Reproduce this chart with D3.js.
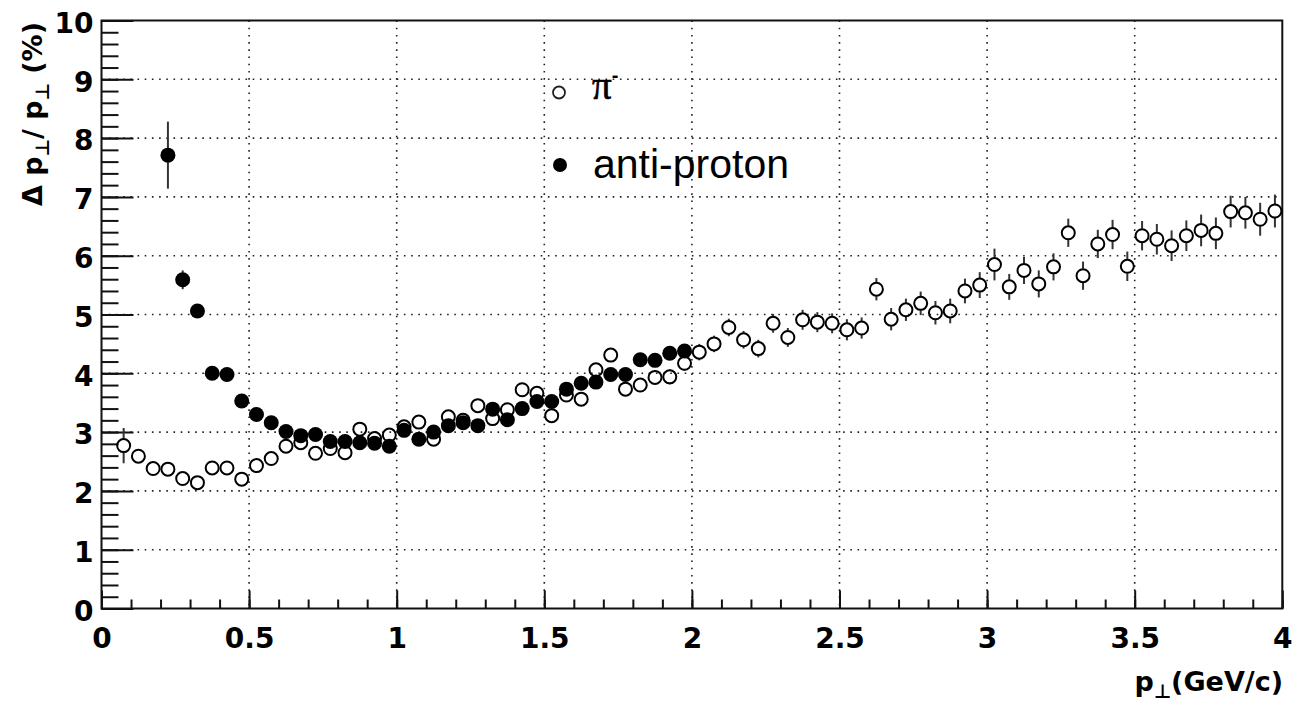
<!DOCTYPE html>
<html><head><meta charset="utf-8">
<script src="https://cdn.jsdelivr.net/npm/d3@7/dist/d3.min.js"></script>
<style>body{margin:0;background:#fff}svg{display:block}</style>
</head><body>
<svg id="c" width="1295" height="705"></svg>
<script>
// ---- data ----
const ptPi = [0.075,0.125,0.175,0.225,0.275,0.325,0.375,0.425,0.475,0.525,
  0.575,0.625,0.675,0.725,0.775,0.825,0.875,0.925,0.975,1.025,
  1.075,1.125,1.175,1.225,1.275,1.325,1.375,1.425,1.475,1.525,
  1.575,1.625,1.675,1.725,1.775,1.825,1.875,1.925,1.975,2.025,
  2.075,2.125,2.175,2.225,2.275,2.325,2.375,2.425,2.475,2.525,
  2.575,2.625,2.675,2.725,2.775,2.825,2.875,2.925,2.975,3.025,
  3.075,3.125,3.175,3.225,3.275,3.325,3.375,3.425,3.475,3.525,
  3.575,3.625,3.675,3.725,3.775,3.825,3.875,3.925,3.975];
const piRes = [2.77,2.59,2.38,2.37,2.21,2.14,2.39,2.39,2.20,2.43,
  2.55,2.76,2.82,2.64,2.72,2.65,3.05,2.89,2.95,3.09,
  3.17,2.88,3.26,3.20,3.45,3.23,3.38,3.72,3.66,3.28,
  3.63,3.56,4.06,4.31,3.73,3.80,3.93,3.94,4.17,4.36,
  4.50,4.78,4.57,4.42,4.85,4.61,4.91,4.87,4.85,4.74,
  4.77,5.43,4.92,5.08,5.19,5.03,5.06,5.40,5.50,5.85,
  5.47,5.75,5.52,5.81,6.39,5.66,6.20,6.36,5.82,6.34,
  6.28,6.17,6.34,6.43,6.38,6.75,6.73,6.62,6.76];
const piErr = [0.30,0.05,0.05,0.05,0.05,0.05,0.05,0.05,0.05,0.05,
  0.05,0.05,0.05,0.05,0.05,0.05,0.06,0.06,0.06,0.07,
  0.07,0.07,0.08,0.08,0.08,0.09,0.09,0.09,0.10,0.10,
  0.10,0.11,0.11,0.11,0.12,0.12,0.12,0.13,0.13,0.14,
  0.14,0.15,0.15,0.15,0.16,0.16,0.17,0.17,0.17,0.18,
  0.18,0.19,0.19,0.19,0.20,0.20,0.21,0.21,0.22,0.27,
  0.22,0.23,0.23,0.23,0.24,0.24,0.24,0.25,0.25,0.25,
  0.26,0.26,0.26,0.27,0.27,0.27,0.27,0.28,0.28];
const ptPbar = [0.225,0.275,0.325,0.375,0.425,0.475,0.525,0.575,0.625,0.675,
  0.725,0.775,0.825,0.875,0.925,0.975,1.025,1.075,1.125,1.175,
  1.225,1.275,1.325,1.375,1.425,1.475,1.525,1.575,1.625,1.675,
  1.725,1.775,1.825,1.875,1.925,1.975];
const pbarRes = [7.71,5.59,5.06,4.00,3.98,3.53,3.30,3.16,3.01,2.94,
  2.96,2.84,2.84,2.82,2.81,2.76,3.03,2.88,3.00,3.11,
  3.16,3.11,3.39,3.21,3.40,3.52,3.52,3.73,3.83,3.85,
  3.98,3.98,4.23,4.22,4.34,4.38];
const pbarErr = [0.57,0.16,0.08,0.06,0.06,0.05,0.05,0.05,0.05,0.05,
  0.05,0.05,0.05,0.05,0.05,0.05,0.05,0.05,0.05,0.05,
  0.06,0.06,0.06,0.06,0.06,0.06,0.07,0.07,0.07,0.07,
  0.07,0.08,0.08,0.08,0.08,0.08];
const xTicks = [0,0.5,1,1.5,2,2.5,3,3.5,4];
const xTickLabels = ["0","0.5","1","1.5","2","2.5","3","3.5","4"];
const yTicks = [0,1,2,3,4,5,6,7,8,9,10];
const yTickLabels = ["0","1","2","3","4","5","6","7","8","9","10"];
const legendLabels = ["\u03C0", "anti-proton"];

// ---- layout ----
const L = 101.5, R = 1282.3, T = 20.5, B = 608.5;
const x = d3.scaleLinear().domain([0,4]).range([L,R]);
const y = d3.scaleLinear().domain([0,10]).range([B,T]);
const svg = d3.select("#c");
const axisFont = "'DejaVu Sans', sans-serif";

// grid
const grid = svg.append("g").attr("stroke","#222").attr("stroke-width",1.6).attr("stroke-dasharray","1.6,5.6");
grid.selectAll("line.gx").data(xTicks.slice(1,-1)).join("line")
  .attr("x1",d=>x(d)).attr("x2",d=>x(d)).attr("y1",T).attr("y2",B);
grid.selectAll("line.gy").data(yTicks.slice(1,-1)).join("line")
  .attr("y1",d=>y(d)).attr("y2",d=>y(d)).attr("x1",L).attr("x2",R);

// axes
function styleAxis(g){
  g.select(".domain").remove();
  g.selectAll(".tick line").attr("stroke","#111").attr("stroke-width",2);
  g.selectAll(".tick text").attr("font-family",axisFont).attr("font-weight","bold")
    .attr("font-size",28).attr("fill","#000");
}
const xMinor = d3.range(0,4.0001,0.1);
svg.append("g").attr("transform",`translate(0,${B})`)
  .call(d3.axisBottom(x).tickValues(xMinor).tickSizeInner(-9).tickSizeOuter(0).tickFormat(""))
  .call(styleAxis);
svg.append("g").attr("transform",`translate(0,${B})`)
  .call(d3.axisBottom(x).tickValues(xTicks).tickSizeInner(-18).tickSizeOuter(0).tickPadding(20)
    .tickFormat((d,i)=>xTickLabels[i]))
  .call(styleAxis);
const yMinor = d3.range(0,10.0001,0.2);
svg.append("g").attr("transform",`translate(${L},0)`)
  .call(d3.axisLeft(y).tickValues(yMinor).tickSizeInner(-17).tickSizeOuter(0).tickFormat(""))
  .call(styleAxis);
const ya = svg.append("g").attr("transform",`translate(${L},0)`)
  .call(d3.axisLeft(y).tickValues(yTicks).tickSizeInner(-32).tickSizeOuter(0).tickPadding(8)
    .tickFormat((d,i)=>yTickLabels[i]))
  .call(styleAxis);
ya.selectAll(".tick text").attr("dy","0.42em");

// frame
svg.append("rect").attr("x",L).attr("y",T).attr("width",R-L).attr("height",B-T)
  .attr("fill","none").attr("stroke","#111").attr("stroke-width",2);

// data
const r = 7;
function errBars(g, pts, vals, errs){
  const rows = pts.map((p,i)=>({p, v:vals[i], e:errs[i]}));
  const eb = g.append("g").attr("stroke","#333").attr("stroke-width",2);
  eb.selectAll("line.up").data(rows.filter(d=>y(d.v)-y(d.v+d.e)>r)).join("line")
    .attr("x1",d=>x(d.p)).attr("x2",d=>x(d.p)).attr("y1",d=>y(d.v+d.e)).attr("y2",d=>y(d.v)-r);
  eb.selectAll("line.dn").data(rows.filter(d=>y(d.v)-y(d.v+d.e)>r)).join("line")
    .attr("x1",d=>x(d.p)).attr("x2",d=>x(d.p)).attr("y1",d=>y(d.v)+r).attr("y2",d=>y(d.v-d.e));
  return rows;
}
const gPi = svg.append("g");
const piRows = errBars(gPi, ptPi, piRes, piErr);
gPi.selectAll("circle").data(piRows).join("circle")
  .attr("cx",d=>x(d.p)).attr("cy",d=>y(d.v)).attr("r",r-0.5)
  .attr("fill","none").attr("stroke","#000").attr("stroke-width",2);
const gPb = svg.append("g");
const pbRows = errBars(gPb, ptPbar, pbarRes, pbarErr);
gPb.selectAll("circle").data(pbRows).join("circle")
  .attr("cx",d=>x(d.p)).attr("cy",d=>y(d.v)).attr("r",r+0.5).attr("fill","#000");

// legend
svg.append("circle").attr("cx",559).attr("cy",92.5).attr("r",6).attr("fill","none")
  .attr("stroke","#222").attr("stroke-width",1.8);
const lt = svg.append("text").attr("x",592).attr("y",99).attr("font-family","'Liberation Serif', serif")
  .attr("font-size",39).attr("fill","#000").attr("stroke","#000").attr("stroke-width",0.6).text(legendLabels[0]);
lt.append("tspan").attr("font-family","'Liberation Sans', sans-serif").attr("font-weight","bold").attr("font-size",20)
  .attr("stroke-width",0).attr("dy",-17).text("-");
svg.append("circle").attr("cx",560).attr("cy",165).attr("r",7).attr("fill","#000");
svg.append("text").attr("x",593).attr("y",178).attr("font-family","'Liberation Sans', Arial, sans-serif")
  .attr("font-size",41).attr("fill","#000").text(legendLabels[1]);

// axis titles
const xt = svg.append("text").attr("x",1283).attr("y",691).attr("text-anchor","end")
  .attr("font-family",axisFont).attr("font-weight","bold").attr("font-size",27).attr("fill","#000");
xt.append("tspan").text("p");
xt.append("tspan").attr("font-size",19).attr("dy",7).text("\u22A5");
xt.append("tspan").attr("dy",-7).text("(GeV/c)");

const yt = svg.append("text").attr("transform","translate(42,22) rotate(-90)").attr("text-anchor","end")
  .attr("font-family",axisFont).attr("font-weight","bold").attr("font-size",27).attr("fill","#000");
yt.append("tspan").text("\u0394 p");
yt.append("tspan").attr("font-size",19).attr("dy",7).text("\u22A5");
yt.append("tspan").attr("dy",-7).text("/ p");
yt.append("tspan").attr("font-size",19).attr("dy",7).text("\u22A5");
yt.append("tspan").attr("dy",-7).text(" (%)");
</script>
</body></html>
